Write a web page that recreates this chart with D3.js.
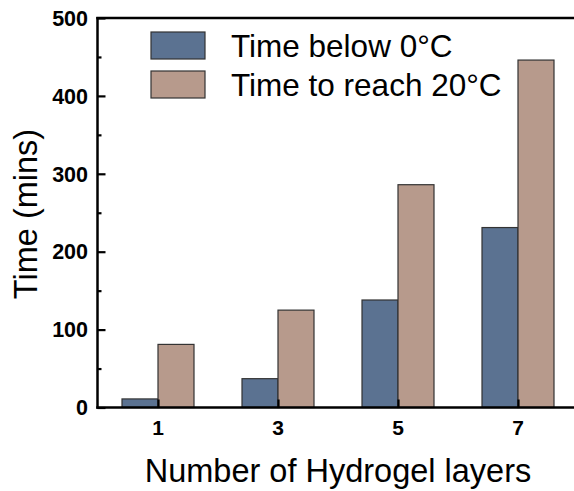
<!DOCTYPE html>
<html>
<head>
<meta charset="utf-8">
<script src="https://cdn.jsdelivr.net/npm/d3@7"></script>
<style>
  body { margin: 0; background: #fff; }
  text { font-family: "Liberation Sans", Arial, sans-serif; }
</style>
</head>
<body>
<script>
// data
const layers = [1, 3, 5, 7];
const timeBelow0 = [11, 37, 138, 231];
const timeTo20 = [81, 125, 286, 446];
const seriesNames = ["Time below 0°C", "Time to reach 20°C"];
const yTicks = [0, 100, 200, 300, 400, 500];

const colors = ["#5b7291", "#b79a8c"];

const width = 574, height = 491;
const plotLeft = 97.5, plotTop = 18, plotBottom = 407.5;

const svg = d3.select("body").append("svg")
    .attr("width", width)
    .attr("height", height);

const x = d3.scaleLinear().domain([0, 8]).range([98, 578]);
const y = d3.scaleLinear().domain([0, 500]).range([plotBottom, plotTop]);
const barW = x(0.6) - x(0);

// bars
const series = [timeBelow0, timeTo20];
series.forEach((vals, si) => {
  svg.selectAll(".bar" + si)
      .data(vals)
      .enter()
      .append("rect")
      .attr("x", (d, i) => si === 0 ? x(layers[i]) - barW : x(layers[i]))
      .attr("y", d => y(d))
      .attr("width", barW)
      .attr("height", d => y(0) - y(d))
      .attr("fill", colors[si])
      .attr("stroke", "#333")
      .attr("stroke-width", 1.2);
});

// y axis, ticks inside
svg.append("g")
    .attr("transform", `translate(${plotLeft},0)`)
    .call(d3.axisRight(y).tickValues(yTicks).tickSize(8).tickFormat(""))
    .call(g => g.select(".domain").remove())
    .selectAll("line").attr("stroke", "#000").attr("stroke-width", 2.2);

svg.append("g")
    .attr("transform", `translate(${plotLeft},0)`)
    .call(d3.axisRight(y).tickValues([50, 150, 250, 350, 450]).tickSize(4).tickFormat(""))
    .call(g => g.select(".domain").remove())
    .selectAll("line").attr("stroke", "#000").attr("stroke-width", 2.2);

svg.selectAll(".ylab")
    .data(yTicks)
    .enter()
    .append("text")
    .attr("x", 88)
    .attr("y", d => y(d))
    .attr("dy", "0.36em")
    .attr("text-anchor", "end")
    .attr("font-size", 21.5)
    .attr("font-weight", "bold")
    .text(d => d);

// x axis, ticks pointing up
svg.append("g")
    .attr("transform", `translate(0,${plotBottom})`)
    .call(d3.axisTop(x).tickValues(layers).tickSize(8).tickFormat(""))
    .call(g => g.select(".domain").remove())
    .selectAll("line").attr("stroke", "#000").attr("stroke-width", 2.2);

svg.selectAll(".xlab")
    .data(layers)
    .enter()
    .append("text")
    .attr("x", d => x(d))
    .attr("y", 435)
    .attr("text-anchor", "middle")
    .attr("font-size", 21)
    .attr("font-weight", "bold")
    .text(d => d);

// frame lines
svg.append("line")
    .attr("x1", plotLeft).attr("x2", plotLeft)
    .attr("y1", plotTop - 1).attr("y2", plotBottom + 1.2)
    .attr("stroke", "#000").attr("stroke-width", 2.5);
svg.append("line")
    .attr("x1", plotLeft - 1.2).attr("x2", width)
    .attr("y1", plotBottom).attr("y2", plotBottom)
    .attr("stroke", "#000").attr("stroke-width", 2.5);
svg.append("line")
    .attr("x1", plotLeft - 1.2).attr("x2", width)
    .attr("y1", plotTop).attr("y2", plotTop)
    .attr("stroke", "#000").attr("stroke-width", 2.5);

// axis titles
svg.append("text")
    .attr("transform", "translate(37,214) rotate(-90)")
    .attr("text-anchor", "middle")
    .attr("font-size", 32.5)
    .text("Time (mins)");

svg.append("text")
    .attr("x", 338)
    .attr("y", 482)
    .attr("text-anchor", "middle")
    .attr("font-size", 32.5)
    .text("Number of Hydrogel layers");

// legend
const legend = svg.selectAll(".legend")
    .data(seriesNames)
    .enter()
    .append("g")
    .attr("transform", (d, i) => `translate(151,${32 + i * 39})`);

legend.append("rect")
    .attr("width", 54)
    .attr("height", 27)
    .attr("fill", (d, i) => colors[i])
    .attr("stroke", "#333")
    .attr("stroke-width", 1.2);

legend.append("text")
    .attr("x", 80)
    .attr("y", 24.5)
    .attr("font-size", 31.5)
    .text(d => d);
</script>
</body>
</html>
